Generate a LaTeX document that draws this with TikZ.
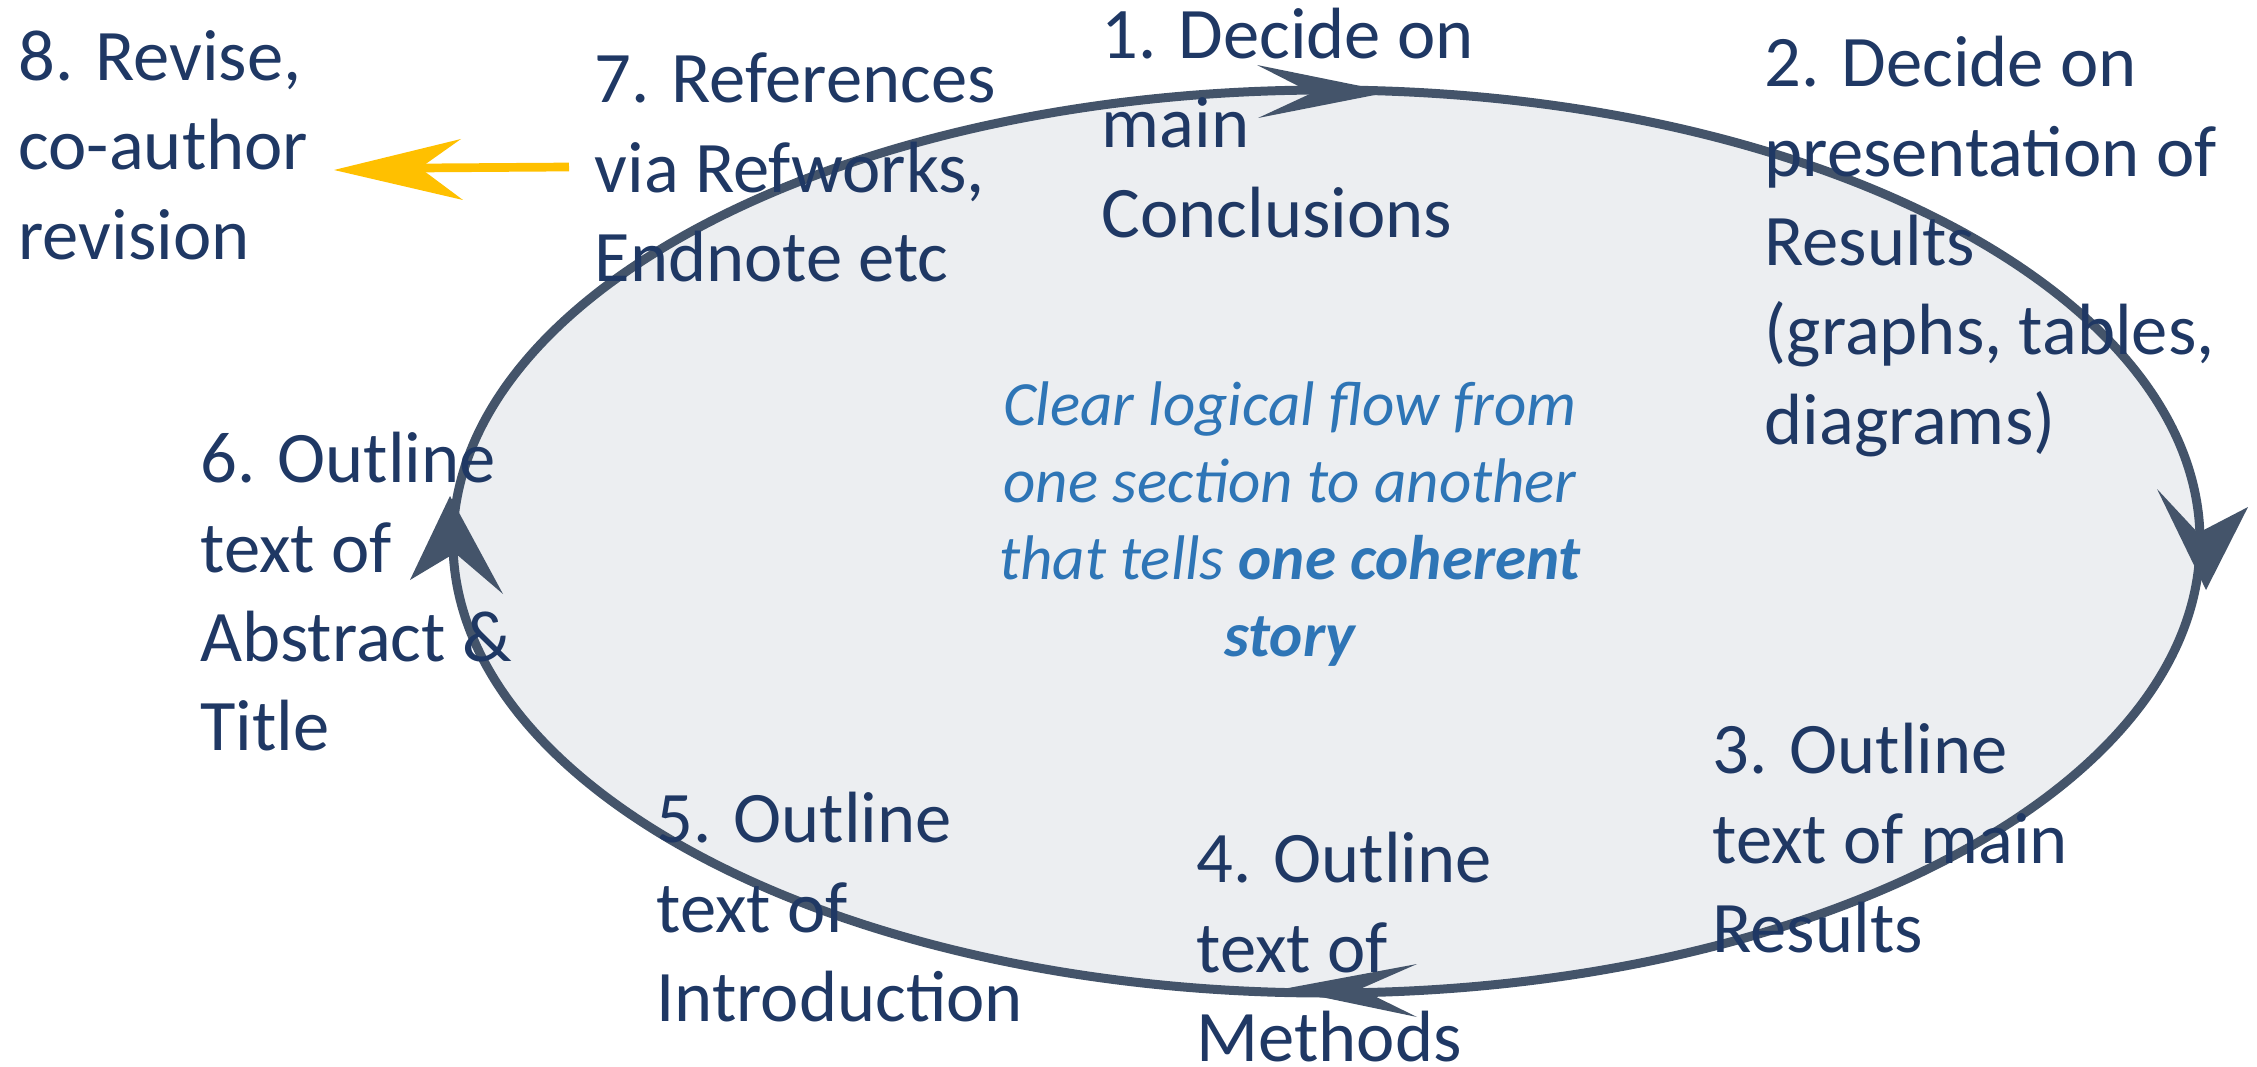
\documentclass[tikz,border=0pt]{standalone}
\usepackage{fontspec}
\setmainfont{Carlito}
\definecolor{ringline}{RGB}{68,84,106}
\definecolor{ringfill}{RGB}{236,238,241}
\definecolor{navytext}{RGB}{31,56,100}
\definecolor{bluetext}{RGB}{46,117,182}
\definecolor{goldarrow}{RGB}{255,192,0}
\tikzset{
  lbl/.style={anchor=north west, inner sep=0pt, align=left, text=navytext,
    font=\fontsize{24.2}{29.8}\selectfont},
  ctr/.style={anchor=north, inner sep=0pt, align=center, text=bluetext,
    font=\fontsize{21}{25.7}\selectfont\itshape},
  ring/.style={draw=ringline, fill=ringfill, line width=3pt},
  headfill/.style={fill=ringline},
  goldshaft/.style={draw=goldarrow, line width=2.9pt},
  goldhead/.style={fill=goldarrow}
}
\newcommand{\firststrut}{\rule{0pt}{20pt}}
\newcommand{\ctrstrut}{\rule{0pt}{17pt}}
\begin{document}
\begin{tikzpicture}[x=0.33333pt,y=-0.33333pt]
\useasboundingbox (0,0) rectangle (2257,1067);
% cycle ellipse
\coordinate (c) at (1326.5,541.5);
\draw[ring] (c) ellipse [x radius=291.17pt, y radius=150.5pt];
% arrowheads on the cycle
\fill[headfill] (1257,65) -- (1390,92) -- (1258,118) -- (1312,93) -- cycle;
\fill[headfill] (2157,489) -- (2198,533) -- (2248,507) -- (2206,590) -- cycle;
\fill[headfill] (1417,964) -- (1283,989) -- (1417,1017) -- (1360,989) -- cycle;
\fill[headfill] (450,496) -- (503,594) -- (455,553) -- (410,580) -- cycle;
% yellow arrow
\coordinate (ys) at (569,167);
\coordinate (yt) at (420,168);
\draw[goldshaft] (ys) -- (yt);
\fill[goldhead] (334,170) -- (461,139) -- (420,168) -- (463,200) -- cycle;
% labels
\node[lbl] (t8) at (18,20) {\firststrut 8. Revise,\\co-author\\revision};
\node[lbl] (t7) at (594,42) {\firststrut 7. References\\via Refworks,\\Endnote etc};
\node[lbl] (t1) at (1101,-2) {\firststrut 1. Decide on\\main\\Conclusions};
\node[lbl] (t2) at (1764,26) {\firststrut 2. Decide on\\presentation of\\Results\\(graphs, tables,\\diagrams)};
\node[lbl] (t6) at (200,422) {\firststrut 6. Outline\\text of\\Abstract \&\\Title};
\node[lbl] (t5) at (656,782) {\firststrut 5. Outline\\text of\\Introduction};
\node[lbl] (t4) at (1196,822) {\firststrut 4. Outline\\text of\\Methods};
\node[lbl] (t3) at (1712,713) {\firststrut 3. Outline\\text of main\\Results};
\node[ctr] (mid) at (1290,374) {\ctrstrut Clear logical flow from\\one section to another\\that tells \textbf{one coherent}\\\textbf{story}};
\end{tikzpicture}
\end{document}
